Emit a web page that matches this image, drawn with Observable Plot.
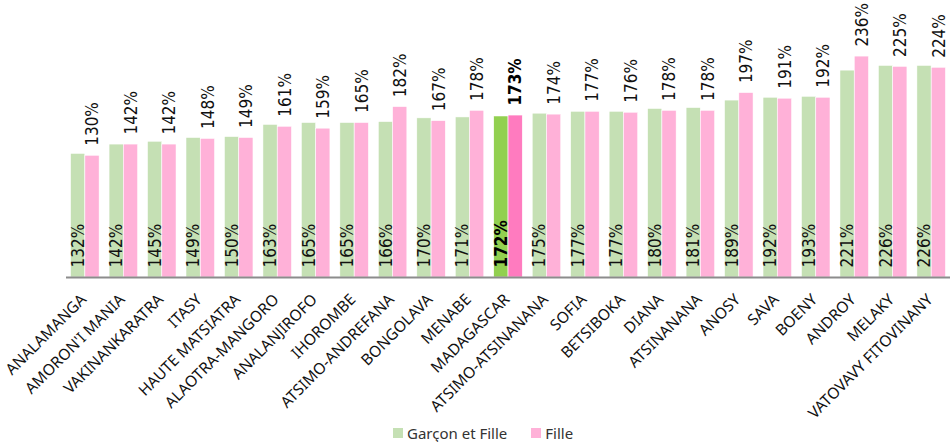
<!DOCTYPE html>
<html>
<head>
<meta charset="utf-8">
<script src="https://cdn.jsdelivr.net/npm/d3@7"></script>
<script src="https://cdn.jsdelivr.net/npm/@observablehq/plot@0.6"></script>
<style>
  html, body { margin: 0; padding: 0; background: #fff; }
  body { width: 950px; height: 442px; overflow: hidden; font-family: "Noto Sans", sans-serif; }
  #chart svg { display: block; }
  .legend { display: flex; align-items: center; height: 18px; margin-left: 393px; font-size: 15px; color: #333; line-height: 18px; }
  .legend span.sw { display: inline-block; width: 10px; height: 10px; margin-right: 4px; }
  .legend .item { display: flex; align-items: center; margin-right: 24px; }
</style>
</head>
<body>
<div id="chart"></div>
<div class="legend">
  <div class="item"><span class="sw" style="background:#C5E0B4"></span>Garçon et Fille</div>
  <div class="item"><span class="sw" style="background:#FFB1D8"></span>Fille</div>
</div>
<script>
const categories = ["ANALAMANGA","AMORON'I MANIA","VAKINANKARATRA","ITASY","HAUTE MATSIATRA","ALAOTRA-MANGORO","ANALANJIROFO","IHOROMBE","ATSIMO-ANDREFANA","BONGOLAVA","MENABE","MADAGASCAR","ATSIMO-ATSINANANA","SOFIA","BETSIBOKA","DIANA","ATSINANANA","ANOSY","SAVA","BOENY","ANDROY","MELAKY","VATOVAVY FITOVINANY"];
const garconEtFille = [132,142,145,149,150,163,165,165,166,170,171,172,175,177,177,180,181,189,192,193,221,226,226];
const fille = [130,142,142,148,149,161,159,165,182,167,178,173,174,177,176,178,178,197,191,192,236,225,224];
const highlight = "MADAGASCAR";

const data = categories.map((c, i) => ({cat: c, gf: garconEtFille[i], f: fille[i], hl: c === highlight}));
const normal = data.filter(d => !d.hl);
const hl = data.filter(d => d.hl);

const narrow = "'Liberation Sans Narrow', 'DejaVu Sans Condensed', sans-serif";
const labelSize = 17;
const chart = Plot.plot({
  width: 950,
  height: 424,
  marginTop: 43,
  marginBottom: 147,
  marginLeft: 66,
  marginRight: 0,
  style: {fontFamily: "Noto Sans", background: "#fff"},
  x: {type: "band", domain: categories, paddingInner: 0.26, paddingOuter: 0.12, round: false, axis: null},
  y: {domain: [0, 250], axis: null},
  marks: [
    Plot.barY(data, {x: "cat", y: "gf", fill: d => d.hl ? "#92D050" : "#C5E0B4", insetRight: 14.3, stroke: "#fff", strokeWidth: 0.5}),
    Plot.barY(data, {x: "cat", y: "f", fill: d => d.hl ? "#FF7BBF" : "#FFB1D8", insetLeft: 14.3, stroke: "#fff", strokeWidth: 0.5}),
    Plot.ruleY([0], {stroke: "#8c8c8c", strokeWidth: 2}),
    Plot.text(normal, {x: "cat", y: 0, text: d => d.gf + "%", rotate: -90, textAnchor: "start", dx: -7, dy: -10, fontSize: labelSize, fontFamily: narrow, fill: "#111"}),
    Plot.text(hl, {x: "cat", y: 0, text: d => d.gf + "%", rotate: -90, textAnchor: "start", dx: -7, dy: -10, fontSize: labelSize, fontFamily: narrow, fontWeight: "bold", fill: "#000"}),
    Plot.text(normal, {x: "cat", y: "f", text: d => d.f + "%", rotate: -90, textAnchor: "start", dx: 7.5, dy: -10, fontSize: labelSize, fontFamily: narrow, fill: "#111"}),
    Plot.text(hl, {x: "cat", y: "f", text: d => d.f + "%", rotate: -90, textAnchor: "start", dx: 7.5, dy: -10, fontSize: labelSize, fontFamily: narrow, fontWeight: "bold", fill: "#000"}),
    Plot.text(categories, {x: d => d, frameAnchor: "bottom", text: d => d, rotate: -45, textAnchor: "end", dx: 2, dy: 23, fontSize: 15.5, fill: "#111"})
  ]
});
document.getElementById("chart").appendChild(chart);
</script>
</body>
</html>
